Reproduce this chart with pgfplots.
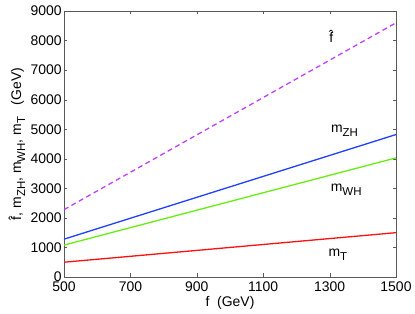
\documentclass[border=0pt]{standalone}
\usepackage{pgfplots}
\pgfplotsset{compat=1.18}
\usepackage{fontspec}
\setmainfont{Liberation Sans}
\definecolor{cpurple}{HTML}{BF40FF}
\definecolor{cblue}{HTML}{2040FF}
\definecolor{cgreen}{HTML}{66EE11}
\definecolor{cred}{HTML}{FF1010}
\newcommand\sub[1]{\raisebox{-0.55ex}{\fontsize{11.5}{11.5}\selectfont #1}}
\begin{document}
\fontsize{14}{16}\selectfont
\begin{tikzpicture}
\path[use as bounding box] (-64bp,-37bp) rectangle (351bp,277bp);
\begin{axis}[
  scale only axis,
  width=332bp, height=266bp,
  xmin=500, xmax=1500, ymin=0, ymax=9000,
  xtick={500,700,900,1100,1300,1500},
  ytick={0,1000,2000,3000,4000,5000,6000,7000,8000,9000},
  /pgf/number format/assume math mode=true,
  /pgf/number format/1000 sep={},
  scaled ticks=false,
  tick align=inside,
  major tick length=3.5bp,
  axis line style={draw=black!65},
  tick style={draw=black!65},
  tick label style={font=\fontsize{14}{16}\selectfont},
  yticklabel style={xshift=2.5bp},
  xticklabel style={yshift=0bp},
  label style={font=\fontsize{14}{16}\selectfont},
  xlabel={f\ \ (GeV)},
  ylabel={\^{f}, m\sub{ZH}, m\sub{WH}, m\sub{T}\ \ \ (GeV)},
  xlabel style={yshift=5bp},
  ylabel style={yshift=-4bp},
  clip=true,
]
\addplot[cpurple, line width=1.3bp, dash pattern=on 5bp off 3.5bp] coordinates {(500,2280) (1500,8600)};
\addplot[cblue, line width=1.3bp] coordinates {(500,1280) (1500,4820)};
\addplot[cgreen, line width=1.3bp] coordinates {(500,1080) (1500,4030)};
\addplot[cred, line width=1.3bp] coordinates {(500,500) (1500,1500)};
\node at (axis cs:1305,8150) {\^{f}};
\node at (axis cs:1345,4960) {m\sub{ZH}};
\node at (axis cs:1350,2950) {m\sub{WH}};
\node at (axis cs:1325,760) {m\sub{T}};
\end{axis}
\end{tikzpicture}
\end{document}
